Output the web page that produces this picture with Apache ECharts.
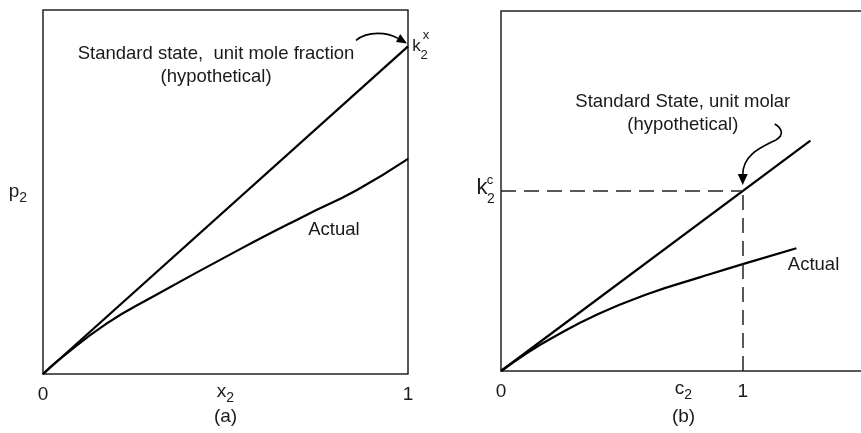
<!DOCTYPE html>
<html>
<head>
<meta charset="utf-8">
<script src="https://cdn.jsdelivr.net/npm/echarts@6/dist/echarts.min.js"></script>
<style>
  html, body { margin: 0; padding: 0; background: #fff; }
  #chart { width: 861px; height: 433px; }
</style>
</head>
<body>
<div id="chart"></div>
<script>
// panel (a): p2 vs x2
const xA = [0, 0.05, 0.175, 0.293, 0.54, 0.722, 0.859, 1]
const actualA = [0, 0.044, 0.139, 0.208, 0.343, 0.437, 0.505, 0.591]
const idealA = [[0, 0], [1, 0.9]]
// panel (b): p2 vs c2
const cB = [0, 0.1, 0.2, 0.4, 0.616, 0.822, 1, 1.222]
const actualB = [0, 0.093, 0.175, 0.315, 0.432, 0.52, 0.594, 0.682]
const idealB = [[0, 0], [1.28, 1.28]]
const k2c = 1
const tickA = [0, 1]
const tickB = [0, 1]

const font = 'Liberation Sans, Arial, Helvetica, sans-serif'
const ink = '#1a1a1a'
const rich = {
  n: { fontSize: 19, fontFamily: font, color: ink, lineHeight: 26, verticalAlign: 'middle' },
  s: { fontSize: 14, fontFamily: font, color: ink, lineHeight: 14, verticalAlign: 'bottom' }
}

const chart = echarts.init(document.getElementById('chart'))

const lineStyle = { color: '#000', width: 2.2 }
const noteLabel = (text) => ({
  show: true,
  formatter: text,
  fontSize: 18.5,
  lineHeight: 23,
  fontFamily: font,
  color: ink,
  align: 'center'
})
const axisBase = {
  type: 'value',
  axisLine: { show: false }, axisTick: { show: false }, splitLine: { show: false }
}

chart.setOption({
  animation: false,
  grid: [
    { left: 43, top: 10, width: 365, height: 364, outerBoundsMode: 'none', show: true, borderColor: '#222', borderWidth: 1.5 },
    { left: 501, top: 11, right: -5, height: 360, outerBoundsMode: 'none', show: true, borderColor: '#222', borderWidth: 1.5 }
  ],
  xAxis: [
    Object.assign({}, axisBase, {
      gridIndex: 0, min: 0, max: 1,
      axisLabel: { customValues: tickA, fontSize: 19, fontFamily: font, color: ink, margin: 11 },
      name: '{n|x}{s|2}', nameLocation: 'middle', nameGap: 5, nameMoveOverlap: false,
      nameTextStyle: { rich: rich }
    }),
    Object.assign({}, axisBase, {
      gridIndex: 1, min: 0, max: 1.51,
      axisLabel: { customValues: tickB, fontSize: 19, fontFamily: font, color: ink, margin: 11 },
      name: '{n|c}{s|2}', nameLocation: 'middle', nameGap: 5, nameMoveOverlap: false,
      nameTextStyle: { rich: rich }
    })
  ],
  yAxis: [
    Object.assign({}, axisBase, {
      gridIndex: 0, min: 0, max: 1,
      axisLabel: { show: false },
      name: '{n|p}{s|2}', nameLocation: 'middle', nameRotate: 0, nameGap: 16, nameMoveOverlap: false,
      nameTextStyle: { rich: rich, align: 'right' }
    }),
    Object.assign({}, axisBase, {
      gridIndex: 1, min: 0, max: 2,
      axisLabel: { show: false }
    })
  ],
  series: [
    {
      name: 'ideal a', type: 'line', xAxisIndex: 0, yAxisIndex: 0,
      data: idealA, showSymbol: false, lineStyle: lineStyle,
      markPoint: {
        symbolSize: 0,
        data: [{ coord: [0.474, 0.849], label: noteLabel('Standard state,  unit mole fraction\n(hypothetical)') }]
      }
    },
    {
      name: 'actual a', type: 'line', xAxisIndex: 0, yAxisIndex: 0,
      data: xA.map((x, i) => [x, actualA[i]]), smooth: 0.5, showSymbol: false, lineStyle: lineStyle,
      markPoint: {
        symbolSize: 0,
        data: [{ coord: [0.797, 0.396], label: noteLabel('Actual') }]
      }
    },
    {
      name: 'ideal b', type: 'line', xAxisIndex: 1, yAxisIndex: 1,
      data: idealB, showSymbol: false, lineStyle: lineStyle,
      markLine: {
        silent: true, symbol: ['none', 'none'],
        lineStyle: { color: '#222', width: 1.5, type: [15, 8] },
        label: { show: false },
        data: [
          [{ coord: [0, k2c] }, { coord: [1, k2c] }],
          [{ coord: [1, 0] }, { coord: [1, k2c] }]
        ]
      },
      markPoint: {
        symbolSize: 0,
        data: [{ coord: [0.752, 1.433], label: noteLabel('Standard State, unit molar\n(hypothetical)') }]
      }
    },
    {
      name: 'actual b', type: 'line', xAxisIndex: 1, yAxisIndex: 1,
      data: cB.map((c, i) => [c, actualB[i]]), smooth: 0.5, showSymbol: false, lineStyle: lineStyle,
      markPoint: {
        symbolSize: 0,
        data: [{ coord: [1.293, 0.589], label: noteLabel('Actual') }]
      }
    }
  ]
})

// annotations anchored to data points
const pA = chart.convertToPixel({ gridIndex: 0 }, idealA[1])
const pB = chart.convertToPixel({ gridIndex: 1 }, [1, k2c])
const pK = chart.convertToPixel({ gridIndex: 1 }, [0, k2c])
const pX0 = chart.convertToPixel({ gridIndex: 0 }, [0.5, 0])
const pX1 = chart.convertToPixel({ gridIndex: 1 }, [0.755, 0])
const txt = (x, y, text, size) => ({
  type: 'text', x: x, y: y, silent: true,
  style: { text: text, fontSize: size, fontFamily: font, fill: ink, align: 'center', verticalAlign: 'middle' }
})
const curve = (o, s) => ({
  type: 'bezierCurve', x: o[0], y: o[1], silent: true,
  shape: { x1: s[0], y1: s[1], cpx1: s[2], cpy1: s[3], cpx2: s[4], cpy2: s[5], x2: s[6], y2: s[7] },
  style: { stroke: '#000', lineWidth: 1.6, fill: null }
})
const head = (o, pts) => ({
  type: 'polygon', x: o[0], y: o[1], silent: true,
  shape: { points: pts },
  style: { fill: '#000' }
})

chart.setOption({
  graphic: [
    // k2^x
    txt(pA[0] + 8.5, pA[1] + 0, 'k', 17),
    txt(pA[0] + 18, pA[1] - 11, 'x', 13),
    txt(pA[0] + 16, pA[1] + 9, '2', 13),
    // arrow (a)
    curve(pA, [-52, -6, -40, -16, -20, -14, -10, -8]),
    head(pA, [[-1, -3], [-12, -4.5], [-7.8, -12.3]]),
    // k2^c
    txt(pK[0] - 19, pK[1] - 3, 'k', 22),
    txt(pK[0] - 11, pK[1] - 11, 'c', 13),
    txt(pK[0] - 10, pK[1] + 8, '2', 14),
    // arrow (b)
    curve(pB, [32, -67, 39, -63, 42, -56, 33, -51]),
    curve(pB, [33, -51, 17, -43, 0, -36, 0, -16]),
    head(pB, [[0, -6], [-5, -17], [5, -17]]),
    // panel captions
    txt(pX0[0], pX0[1] + 43, '(a)', 19),
    txt(pX1[0], pX1[1] + 46, '(b)', 19)
  ]
})
</script>
</body>
</html>
